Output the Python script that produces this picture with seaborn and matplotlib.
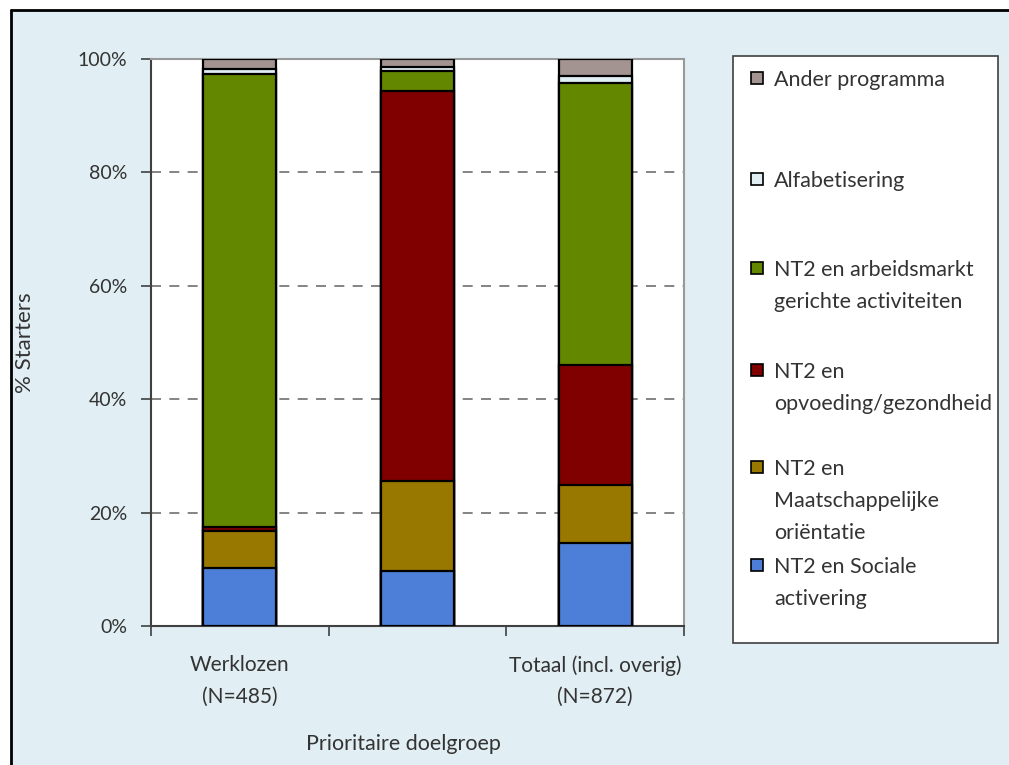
import matplotlib
matplotlib.use("Agg")
import matplotlib.pyplot as plt
import seaborn as sns
import numpy as np
import pandas as pd
from matplotlib.patches import Rectangle
from matplotlib.lines import Line2D

# ---------------- data ----------------
categories = ["Werklozen\n(N=485)", "", "Totaal (incl. overig)\n(N=872)"]
series_names = [
    "NT2 en Sociale\nactivering",
    "NT2 en\nMaatschappelijke\noriëntatie",
    "NT2 en\nopvoeding/gezondheid",
    "NT2 en arbeidsmarkt\ngerichte activiteiten",
    "Alfabetisering",
    "Ander programma",
]
sociale = [10.3, 9.7, 14.6]
maatschappelijk = [6.4, 15.9, 10.3]
opvoeding = [0.7, 68.8, 21.1]
arbeidsmarkt = [80.0, 3.5, 49.8]
alfabetisering = [0.9, 0.7, 1.2]
ander = [1.7, 1.4, 3.0]
y_ticks = [0, 20, 40, 60, 80, 100]
y_title = "% Starters"
x_title = "Prioritaire doelgroep"

colors = ["#4D7ED8", "#997800", "#800000", "#648700", "#E1EFF4", "#A39492"]
bg = "#E1EEF3"
txt = "#333333"

series = [sociale, maatschappelijk, opvoeding, arbeidsmarkt, alfabetisering, ander]

sns.set_style("white")
plt.rcParams["font.family"] = ["Lato", "DejaVu Sans"]

fig = plt.figure(figsize=(10.09, 7.65), dpi=100)
fig.patch.set_facecolor("white")
x_left = 11 / 1009
y_top = 1 - 10 / 765
fig.add_artist(Rectangle((x_left, 0), 1 - x_left, y_top, transform=fig.transFigure,
                         facecolor=bg, edgecolor="none", zorder=-10))
fig.add_artist(Line2D([x_left, x_left], [0, y_top], transform=fig.transFigure,
                      color="black", linewidth=2))
fig.add_artist(Line2D([x_left, 1], [y_top, y_top], transform=fig.transFigure,
                      color="black", linewidth=2))

ax = fig.add_axes([151 / 1009, 1 - 626 / 765, (684 - 151) / 1009, (626 - 59) / 765])
ax.set_facecolor("white")

cum = np.cumsum(np.array(series), axis=0)
df = pd.DataFrame({"groep": categories})
for i in reversed(range(len(series))):
    df["h"] = cum[i]
    sns.barplot(data=df, x="groep", y="h", order=categories, color=colors[i],
                saturation=1, width=0.41, edgecolor="black", linewidth=1.6,
                ax=ax, zorder=3)

ax.set_ylim(0, 100)
ax.set_xlim(-0.5, 2.5)
ax.set_yticks(y_ticks)
ax.set_yticklabels([f"{v}%" for v in y_ticks], fontsize=14, color=txt)
ax.set_xticks([-0.5, 0.5, 1.5, 2.5])
ax.set_xticklabels([])
ax.set_xticks([0, 1, 2], minor=True)
ax.set_xticklabels(categories, minor=True, fontsize=15, color=txt, linespacing=1.7)
ax.tick_params(axis="x", which="major", direction="out", length=7, width=1.2,
               color="#404040", bottom=True)
ax.tick_params(axis="x", which="minor", length=0, pad=21)
ax.tick_params(axis="y", direction="out", length=7, width=1.2, color="#404040",
               left=True, pad=10)

for y in y_ticks[1:-1]:
    ax.axhline(y, color="#707070", linewidth=1.2, linestyle=(0, (6, 5)), zorder=1)

for side in ["left", "bottom"]:
    ax.spines[side].set_color("#404040")
    ax.spines[side].set_linewidth(1.5)
for side in ["top", "right"]:
    ax.spines[side].set_visible(True)
    ax.spines[side].set_color("#999999")
    ax.spines[side].set_linewidth(1.5)

ax.set_xlabel("")
ax.set_ylabel(y_title, fontsize=16, color=txt)
ax.yaxis.set_label_coords((35 - 151) / 533, 0.5)
fig.text(403 / 1009, 1 - 744 / 765, x_title, ha="center", va="center",
         fontsize=15.5, color=txt)

# ---------------- legend (manual box) ----------------
lx0, lx1 = 733 / 1009, 998 / 1009
ly0, ly1 = 1 - 643 / 765, 1 - 56 / 765
fig.add_artist(Rectangle((lx0, ly0), lx1 - lx0, ly1 - ly0, transform=fig.transFigure,
                         facecolor="white", edgecolor="#404040", linewidth=1.2))
entry_centers = [565, 467, 370, 268, 179, 78]  # first-line centers (px from top)
for name, col, yc in zip(series_names, colors, entry_centers):
    fig.add_artist(Rectangle((751 / 1009, 1 - (yc + 6) / 765), 12 / 1009, 12 / 765,
                             transform=fig.transFigure, facecolor=col,
                             edgecolor="black", linewidth=1.2))
    fig.text(774 / 1009, 1 - (yc - 8) / 765, name, ha="left", va="top",
             fontsize=15.5, color=txt, linespacing=1.75)

fig.savefig("out.png", dpi=100, facecolor="white")
